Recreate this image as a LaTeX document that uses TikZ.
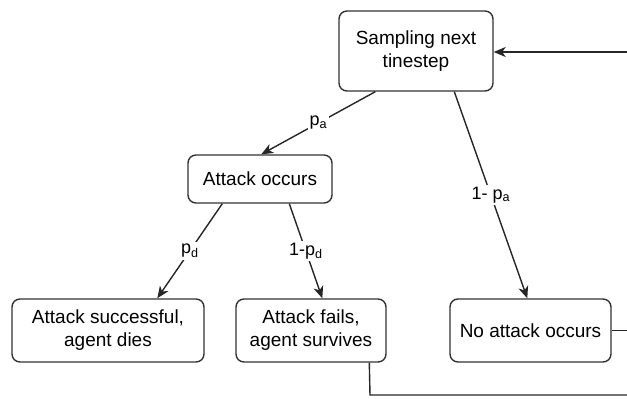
\documentclass[tikz,border=0pt]{standalone}
\usepackage{fontspec}
\setmainfont{Liberation Sans}
\usetikzlibrary{arrows.meta,calc}
\tikzset{
  box/.style={draw=black!80, line width=1.4pt, rounded corners=8pt, fill=white,
    align=center, inner sep=0pt, font=\fontsize{19}{23}\selectfont},
  link/.style={line width=1.4pt, draw=black!85},
  arrowlink/.style={link, -{Stealth[length=12pt,width=10pt,inset=3.5pt]}},
  prob/.style={fill=white, inner sep=2pt, font=\fontsize{18}{20}\selectfont},
}
\begin{document}
\begin{tikzpicture}[x=1pt,y=-1pt]
  \useasboundingbox (0,0) rectangle (627,399);

  % states
  \node[box, minimum width=154pt, minimum height=80pt] (samp) at (416,51) {Sampling next\\tinestep};
  \node[box, minimum width=144pt, minimum height=48pt] (att) at (260,179) {Attack occurs};
  \node[box, minimum width=192pt, minimum height=63pt] (succ) at (108,330.5) {Attack successful,\\agent dies};
  \node[box, minimum width=150pt, minimum height=63pt] (fails) at (311,330.5) {Attack fails,\\agent survives};
  \node[box, minimum width=161pt, minimum height=63pt] (noatt) at (530.5,330.5) {No attack occurs};

  % loose ends of the loop back to sampling
  \coordinate (backin) at (627,52);
  \coordinate (noout) at (627,330.5);
  \coordinate (failcorner) at (370,395);
  \coordinate (failout) at (627,395);

  % branching transitions
  \draw[arrowlink] ([xshift=37pt]samp.south west) -- node[prob] {p\textsubscript{a}} ([xshift=74pt]att.north west);
  \draw[arrowlink] ([xshift=116pt]samp.south west) -- node[prob] {1- p\textsubscript{a}} ([xshift=78pt]noatt.north west);
  \draw[arrowlink] ([xshift=35pt]att.south west) -- node[prob] {p\textsubscript{d}} ([xshift=146pt]succ.north west);
  \draw[arrowlink] ([xshift=102pt]att.south west) -- node[prob] {1-p\textsubscript{d}} ([xshift=87pt]fails.north west);

  % feedback lines
  \draw[arrowlink] (backin) -- (samp.east |- backin);
  \draw[link] (noatt.east) -- (noout);
  \draw[link] ([xshift=134pt]fails.south west) -- (failcorner) -- (failout);
\end{tikzpicture}
\end{document}
